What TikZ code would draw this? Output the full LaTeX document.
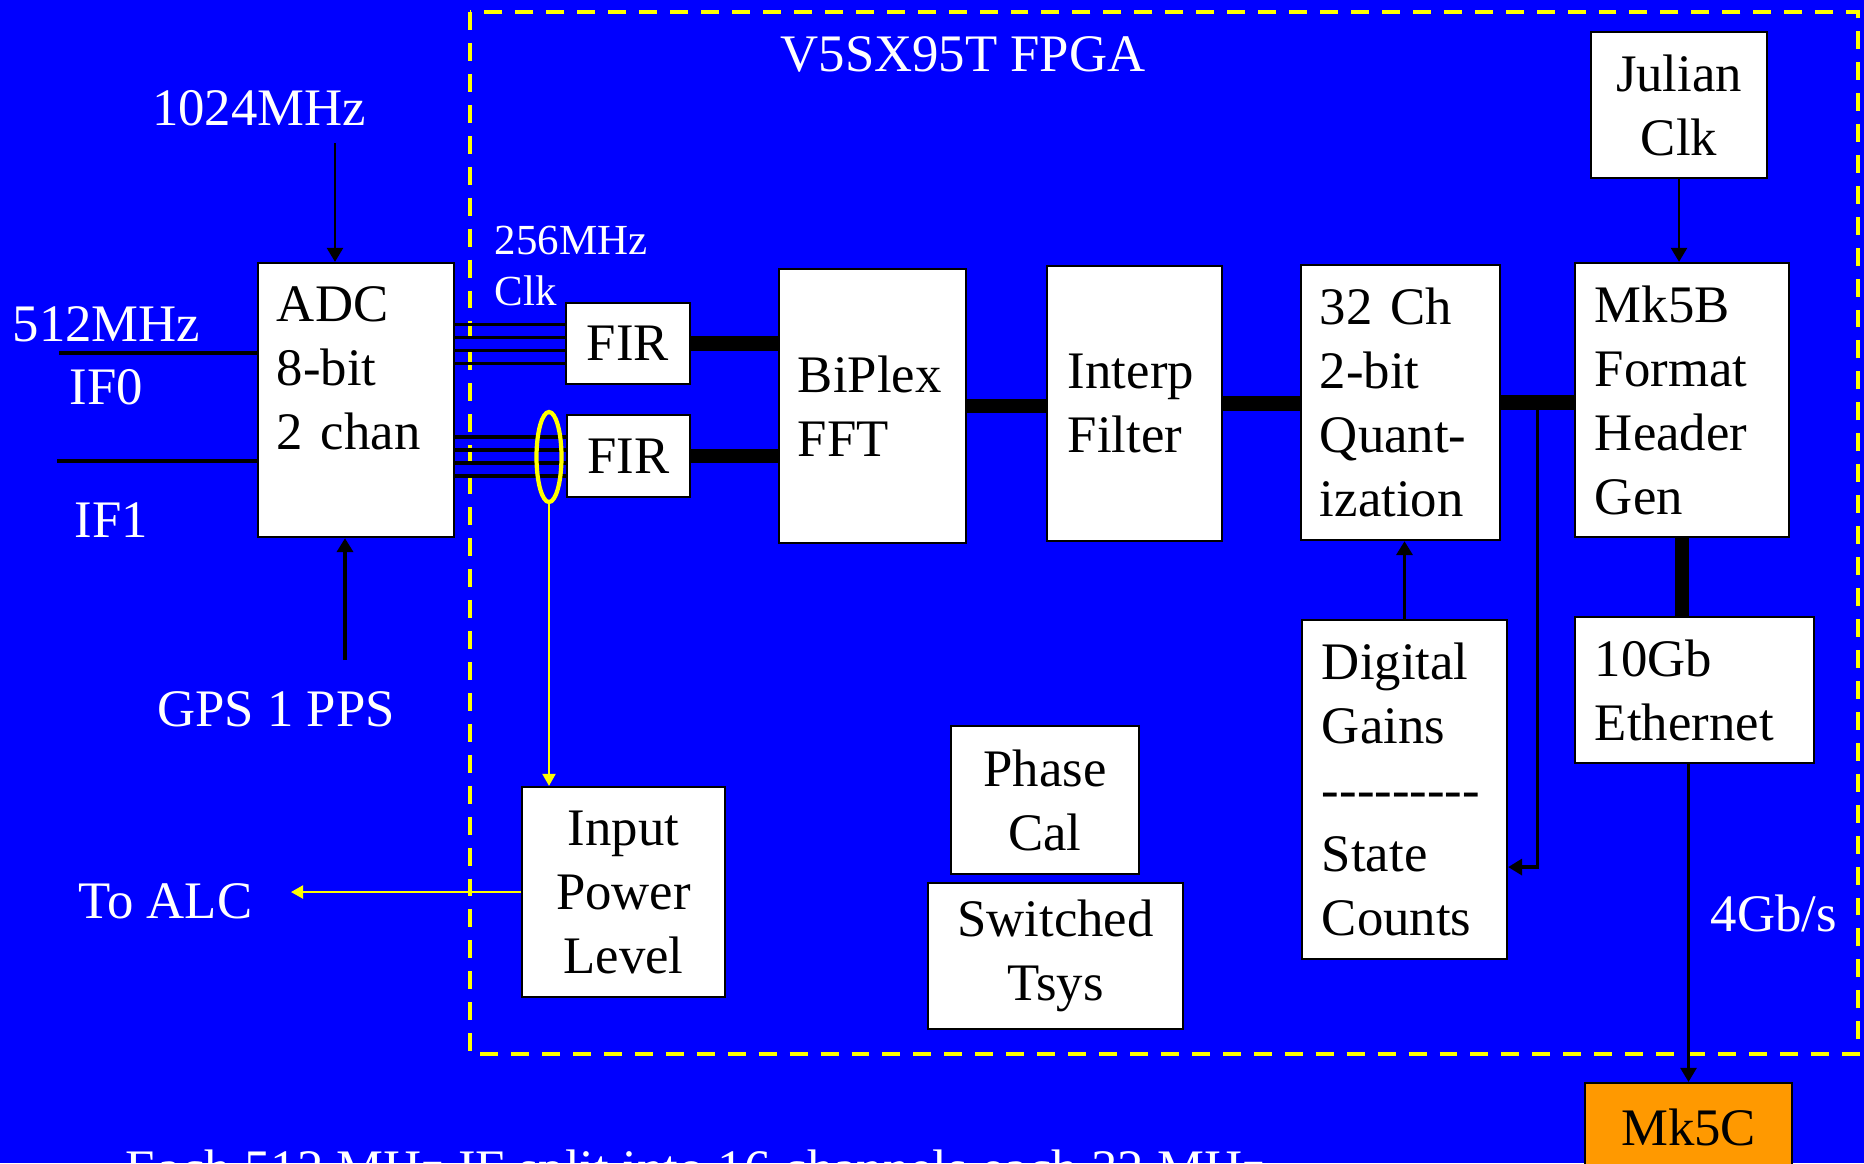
\documentclass[tikz,border=0pt]{standalone}
\usepackage{fontspec}
\setmainfont{Liberation Serif}
\usepackage{tikz}
\usetikzlibrary{arrows.meta,positioning,shapes.geometric,calc}
\definecolor{SlideBlue}{HTML}{0000FF}
\definecolor{SlideYellow}{HTML}{FFFF00}
\definecolor{MkOrange}{HTML}{FF9900}
\newcommand\bigfont{\fontsize{15}{18.2}\selectfont}
\newcommand\smallfont{\fontsize{12.2}{14.5}\selectfont}
\newcommand\gaindashes{-\kern0pt-\kern0pt-\kern0pt-\kern0pt-\kern0pt-\kern0pt-\kern0pt-\kern0pt-}
\tikzset{
  blockbox/.style={draw=black,line width=0.6pt,fill=white,font=\bigfont,inner ysep=0pt},
  leftbox/.style={blockbox,align=left,inner xsep=0.2cm},
  whitelabel/.style={text=white,font=\bigfont,inner sep=0pt},
  thinarrow/.style={-{Triangle[length=1.4mm,width=1.6mm]},line width=0.7pt,draw=black},
  yellowarrow/.style={-{Triangle[length=1.2mm,width=1.3mm]},line width=0.6pt,draw=SlideYellow},
  widebus/.style={line width=4pt,draw=black},
  busline/.style={line width=1pt,draw=black},
  fpgaframe/.style={draw=SlideYellow,line width=1.4pt,dash pattern=on 5.1pt off 3.7pt}
}
\begin{document}
\begin{tikzpicture}[x=0.01cm,y=-0.01cm]
\useasboundingbox (0,0) rectangle (1864,1163);
\fill[SlideBlue] (0,0) rectangle (1864,1163);
\draw[fpgaframe] (470,12) rectangle (1858,1054);

\node[whitelabel,anchor=base] (title) at (963,71) {V5SX95T FPGA};
\node[whitelabel,anchor=base] (lbl1024) at (259,125) {1024MHz};
\node[whitelabel,anchor=base west] (lbl512) at (12,341) {512MHz};
\node[whitelabel,anchor=base west] (lblif0) at (69,404) {IF0};
\node[whitelabel,anchor=base west] (lblif1) at (74,537) {IF1};
\node[whitelabel,anchor=base] (lblgps) at (276,726) {GPS 1 PPS};
\node[whitelabel,anchor=north west,font=\smallfont,align=left] (lblclk) at (494,225) {256MHz\\Clk};
\node[whitelabel,anchor=base west] (lblalc) at (78,918) {To ALC};
\node[whitelabel,anchor=base west] (lblrate) at (1710,931) {4Gb/s};
\node[whitelabel,anchor=base west] (caption) at (125,1186) {Each 512 MHz IF split into 16 channels each 32 MHz};

\node[leftbox,inner xsep=0.19cm,text width=1.58cm,minimum height=2.74cm] (adc) at (356,400) {ADC\\8-bit\\2 chan\\\mbox{}};
\node[blockbox,minimum width=1.24cm,minimum height=0.81cm] (fir1) at (628,343.5) {FIR};
\node[blockbox,minimum width=1.23cm,minimum height=0.82cm] (fir2) at (628.5,456) {FIR};
\node[leftbox,inner xsep=0.19cm,text width=1.49cm,minimum height=2.74cm] (fft) at (872.5,406) {BiPlex\\FFT};
\node[leftbox,inner xsep=0.21cm,text width=1.33cm,minimum height=2.75cm] (interp) at (1134.5,403.5) {Interp\\Filter};
\node[leftbox,inner xsep=0.19cm,text width=1.61cm,minimum height=2.75cm] (quant) at (1400.5,402.5) {32 Ch\\2-bit\\Quant-\\ization};
\node[leftbox,text width=1.74cm,minimum height=2.74cm] (mkb) at (1682,400) {Mk5B\\Format\\Header\\Gen};
\node[blockbox,align=center,minimum width=1.76cm,minimum height=1.46cm] (julian) at (1679,105) {Julian\\Clk};
\node[leftbox,text width=1.99cm,minimum height=1.46cm] (eth) at (1694.5,690) {10Gb\\Ethernet};
\node[leftbox,text width=1.65cm,minimum height=3.39cm] (gains) at (1404.5,789.5) {Digital\\Gains\\\gaindashes\\State\\Counts};
\node[blockbox,align=center,minimum width=1.88cm,minimum height=1.48cm] (phase) at (1045,800) {Phase\\Cal};
\node[blockbox,align=center,minimum width=2.55cm,minimum height=1.46cm] (tsys) at (1055.5,956) {Switched\\Tsys};
\node[blockbox,align=center,minimum width=2.03cm,minimum height=2.10cm] (power) at (623.5,892) {Input\\Power\\Level};
\node[blockbox,fill=MkOrange,minimum width=2.07cm,minimum height=0.88cm] (mkc) at (1688.5,1127) {Mk5C};

\coordinate (clkin) at (335,143);
\coordinate (ppsin) at (345,660);
\coordinate (if0in) at (59,353);
\coordinate (if1in) at (57,461);
\coordinate (alc) at (291,892);
\coordinate (split) at ($(quant.east)!0.5!(mkb.west)$);

\draw[thinarrow] (clkin) -- (clkin |- adc.north);
\draw[thinarrow,line width=1pt] (ppsin) -- (ppsin |- adc.south);
\draw[busline] (if0in) -- (if0in -| adc.west);
\draw[busline] (if1in) -- (if1in -| adc.west);
\foreach \d in {0.19,0.06,-0.07,-0.2} {
  \draw[busline] ([yshift=\d cm]fir1.west -| adc.east) -- ([yshift=\d cm]fir1.west);
  \draw[busline] ([yshift=\d cm]fir2.west -| adc.east) -- ([yshift=\d cm]fir2.west);
}
\node[draw=SlideYellow,ellipse,line width=1.2pt,minimum width=0.25cm,minimum height=0.9cm,inner sep=0pt] (tap) at (549,457) {};
\draw[yellowarrow] (tap.south) -- (tap.south |- power.north);
\draw[yellowarrow] (power.west) -- (alc);

\draw[widebus] (fir1.east) -- (fir1.east -| fft.west);
\draw[widebus] (fir2.east) -- (fir2.east -| fft.west);
\draw[widebus] (fft.east) -- (fft.east -| interp.west);
\draw[widebus] (interp.east) -- (interp.east -| quant.west);
\draw[widebus] (quant.east) -- (quant.east -| mkb.west);
\draw[widebus] (mkb.south) -- (mkb.south |- eth.north);
\draw[thinarrow,line width=1.1pt] (split) |- ([yshift=-0.775cm]gains.east);
\draw[thinarrow] (julian.south) -- (julian.south |- mkb.north);
\draw[thinarrow,line width=1pt] (gains.north) -- (gains.north |- quant.south);
\draw[thinarrow] (mkc.north |- eth.south) -- (mkc.north);
\end{tikzpicture}
\end{document}
